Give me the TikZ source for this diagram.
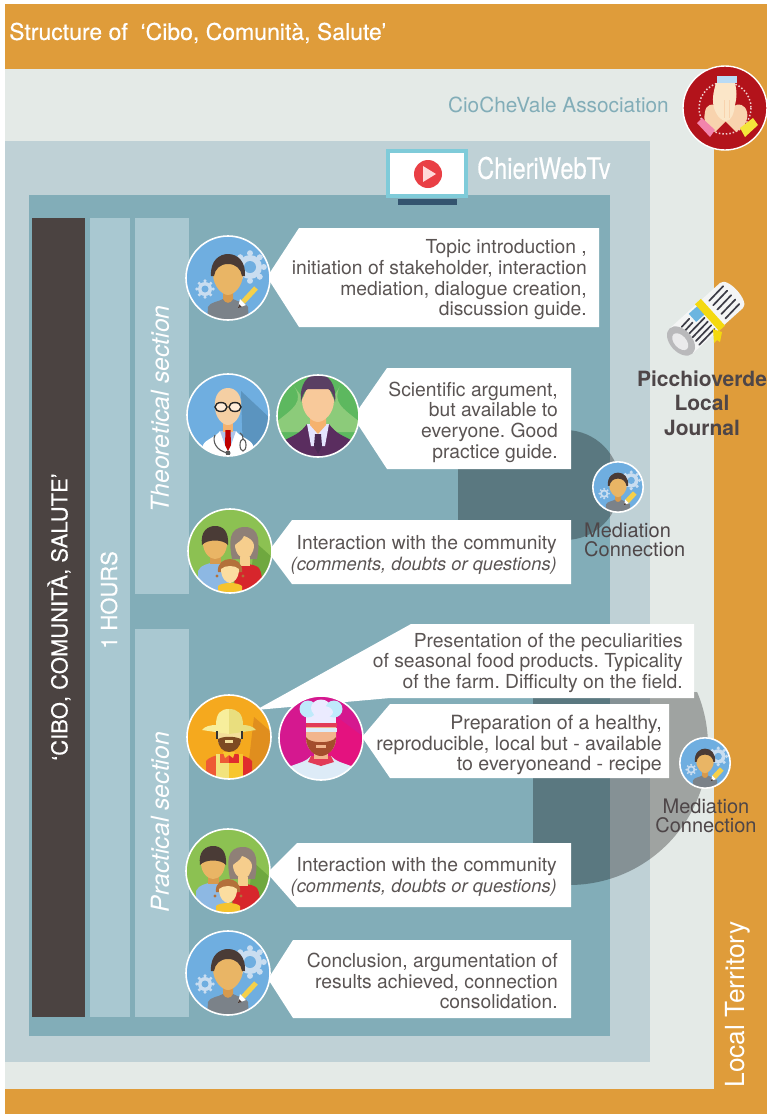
\documentclass[tikz,border=0pt]{standalone}
\usepackage{fontspec}
\setmainfont{TeX Gyre Heros}
\newfontfamily\semi[FakeBold=0.35]{TeX Gyre Heros}
\AtBeginDocument{\frenchspacing}
\definecolor{orangeband}{HTML}{DF9C3A}
\definecolor{palegrey}{HTML}{E4EAE7}
\definecolor{midblue}{HTML}{BFD1D6}
\definecolor{tealpanel}{HTML}{82ADB8}
\definecolor{darkbar}{HTML}{4B4341}
\definecolor{hourbar}{HTML}{A9C8D1}
\definecolor{txt}{HTML}{5A5453}
\definecolor{headtxt}{HTML}{4E4648}
\definecolor{bgblue}{HTML}{6FAEE0}
\definecolor{gearc}{HTML}{C9DDF0}
\definecolor{pface}{HTML}{E9B565}
\definecolor{pneck}{HTML}{D79A4E}
\definecolor{phair}{HTML}{4A3B36}
\definecolor{pshirt}{HTML}{7B8289}
\definecolor{pencil}{HTML}{F5D04A}
\definecolor{famgreen}{HTML}{8CC152}
\definecolor{famshade}{HTML}{6FA83F}
\definecolor{fblue}{HTML}{8DB8E3}
\definecolor{mhair}{HTML}{8F8077}
\definecolor{mface}{HTML}{F6CE8D}
\definecolor{mred}{HTML}{D7262C}
\definecolor{cface}{HTML}{FBDDA0}
\definecolor{chair}{HTML}{B3703A}
\definecolor{cyell}{HTML}{F6C32C}
\definecolor{docshade}{HTML}{5B94BF}
\definecolor{dface}{HTML}{F5CFA3}
\definecolor{bgreen}{HTML}{5DB85F}
\definecolor{blight}{HTML}{8CCB7A}
\definecolor{bhair}{HTML}{5A3F63}
\definecolor{bface}{HTML}{F8C99A}
\definecolor{bneck}{HTML}{F5B26F}
\definecolor{bsuit}{HTML}{5A2D5F}
\definecolor{btie}{HTML}{4A2A55}
\definecolor{farmbg}{HTML}{F5A91E}
\definecolor{farmsh}{HTML}{E08E1E}
\definecolor{hatl}{HTML}{F7EE9C}
\definecolor{hatd}{HTML}{E9DE7E}
\definecolor{beard}{HTML}{7D4A22}
\definecolor{farmface}{HTML}{F3DE9A}
\definecolor{shirtl}{HTML}{EE5A35}
\definecolor{shirtr}{HTML}{E02D2D}
\definecolor{overl}{HTML}{F2E37D}
\definecolor{overr}{HTML}{F7C62E}
\definecolor{chefbg}{HTML}{D5188F}
\definecolor{chefsh}{HTML}{E4127F}
\definecolor{coat}{HTML}{DDEBF7}
\definecolor{chefred}{HTML}{E23B57}
\definecolor{chefface}{HTML}{F2B58C}
\definecolor{chefbeard}{HTML}{A44E2C}
\definecolor{logored}{HTML}{B3131B}
\definecolor{handl}{HTML}{FBE6C8}
\definecolor{handd}{HTML}{F8D3AE}
\definecolor{cuffb}{HTML}{B9DBF5}
\definecolor{cuffp}{HTML}{F284AC}
\definecolor{cuffy}{HTML}{F4E63A}
\definecolor{monframe}{HTML}{7FCBD9}
\definecolor{monstand}{HTML}{34546F}
\definecolor{playred}{HTML}{E93F45}
\definecolor{roll}{HTML}{F4F5F5}
\definecolor{rollend}{HTML}{B9B9BB}
\definecolor{stripe}{HTML}{3C3C46}
\definecolor{ribbon}{HTML}{F4D90F}
\definecolor{newsblue}{HTML}{6BB5E0}
\tikzset{
  callout/.style={fill=white,draw=none},
  calltext/.style={align=right,anchor=east,text=txt,font=\fontsize{19.3}{20.7}\selectfont,inner sep=0pt},
  vlabel/.style={rotate=90,text=white,inner sep=0pt},
  disc/.style={draw=white,line width=1.6pt},
  shade30/.style={fill=black,fill opacity=.3,draw=none},
}
\newcommand{\clipcirc}[1]{\clip (0,0) circle [radius=#1];}
\newcommand{\gear}[3]{%
  \fill[gearc] (#1,#2) circle [radius=#3];
  \foreach \a in {0,45,...,315}{\fill[gearc] (#1,#2) ++(\a:#3*1.15) circle [radius=#3*.25];}
  \fill[bgblue] (#1,#2) circle [radius=#3*.5];
}
\newcommand{\personicon}[3]{% x y scale
\begin{scope}[shift={(#1,#2)},scale=#3]
  \fill[bgblue] (0,0) circle [radius=42];
  \begin{scope}\clipcirc{42}
    \gear{22}{-11}{12}
    \gear{-23}{11}{7}
    \fill[pshirt] (-21,44) -- (-20,29) .. controls (-18,24) and (-10,24) .. (-5,21) -- (5,21) .. controls (10,24) and (18,24) .. (20,29) -- (21,44) -- cycle;
    \fill[pneck] (-5,8) -- (5,8) -- (5,21) .. controls (3,26) and (-3,26) .. (-5,21) -- cycle;
    \fill[pface] (-15,-4) .. controls (-15,8) and (-6,17) .. (0,17) .. controls (6,17) and (15,8) .. (15,-4) .. controls (15,-22) and (-15,-22) .. (-15,-4);
    \fill[phair] (-17,-2) .. controls (-18,-18) and (-8,-24) .. (0,-24) .. controls (10,-24) and (18,-16) .. (17,-2) -- (14,-2) .. controls (13,-9) and (8,-14) .. (0,-14) .. controls (-8,-14) and (-13,-9) .. (-14,-2) -- cycle;
    \draw[pencil,line width=5pt] (15,24) -- (28,10);
    \fill[white] (10,30) -- (12,21) -- (18,27) -- cycle;
    \fill[phair] (10,30) -- (11,26) -- (14,29) -- cycle;
  \end{scope}
  \draw[disc] (0,0) circle [radius=42];
\end{scope}}
\newcommand{\familyicon}[2]{%
\begin{scope}[shift={(#1,#2)}]
  \fill[famgreen] (0,0) circle [radius=42];
  \begin{scope}\clipcirc{42}
    \fill[famshade] (24,-10) -- (44,8) -- (44,40) -- (20,40) -- cycle;
    \fill[fblue] (-32,45) -- (-32,20) .. controls (-30,14) and (-20,12) .. (-15,11) .. controls (-8,12) and (-2,14) .. (0,20) -- (2,45) -- cycle;
    \fill[pneck] (-20,0) rectangle (-9,13);
    \fill[pface] (-27,-8) .. controls (-27,2) and (-20,8) .. (-15,8) .. controls (-9,8) and (-3,2) .. (-3,-8) .. controls (-3,-18) and (-27,-18) .. (-27,-8);
    \fill[phair] (-28,-6) .. controls (-30,-20) and (-22,-25) .. (-15,-25) .. controls (-7,-25) and (-1,-20) .. (-2,-6) .. controls (-7,-12) and (-23,-12) .. (-28,-6);
    \fill[mhair] (2,8) .. controls (-1,-8) and (-2,-24) .. (15,-24) .. controls (30,-24) and (30,-8) .. (27,8) -- cycle;
    \fill[mred] (4,42) -- (5,17) .. controls (10,12) and (24,12) .. (29,17) .. controls (32,22) and (32,28) .. (32,32) -- (26,42) -- cycle;
    \fill[mface] (10,6) rectangle (20,15);
    \fill[mface] (5,-6) .. controls (5,2) and (11,8) .. (15,8) .. controls (19,8) and (24,2) .. (24,-6) .. controls (24,-10) and (18,-14) .. (14,-15) .. controls (12,-10) and (8,-9) .. (5,-6);
    \fill[cyell] (-12,43) -- (-12,35) .. controls (-8,31) and (8,31) .. (12,35) -- (12,43) -- cycle;
    \fill[chair] (-12,21) .. controls (-13,12) and (-6,8) .. (0,8) .. controls (6,8) and (13,12) .. (12,21) -- cycle;
    \fill[chair] (-13,25) circle [radius=1.6];
    \fill[chair] (13,25) circle [radius=1.6];
    \fill[cface] (-9,18) .. controls (-9,28) and (-3,32) .. (0,32) .. controls (3,32) and (9,28) .. (9,18) .. controls (5,14) and (-5,14) .. (-9,18);
  \end{scope}
  \draw[disc] (0,0) circle [radius=42];
\end{scope}}
\begin{document}
\begin{tikzpicture}[x=1pt,y=-1pt]
\useasboundingbox (0,0) rectangle (767,1114);
\fill[white] (0,0) rectangle (767,1114);
% bands and panels
\fill[orangeband] (5,4) rectangle (767,1114);
\fill[palegrey] (5,69) rectangle (714,1089);
\fill[midblue] (5,141) rectangle (650,1062);
\fill[tealpanel] (29,195) rectangle (610,1036);
% columns
\fill[darkbar] (32,218) rectangle (85,1017);
\fill[hourbar] (90,218) rectangle (130,1017);
\fill[hourbar] (135,218) rectangle (189,594);
\fill[hourbar] (135,629) rectangle (189,1017);
% mediation shades
\fill[shade30] (458,430) -- (565,430) arc[start angle=-90,end angle=90,radius=55] -- (458,540) -- cycle;
\begin{scope}
  \clip (533,692) rectangle (720,900);
  \fill[shade30] (569,746) circle [radius=139];
\end{scope}
% callouts
\fill[callout] (267,277) -- (299,228) -- (599,228) -- (599,327) -- (299,327) -- cycle;
\fill[callout] (353,417) -- (387,368) -- (571,368) -- (571,469) -- (387,469) -- cycle;
\fill[callout] (268,552) -- (292,520) -- (571,520) -- (571,584) -- (292,584) -- cycle;
\fill[callout] (256,710) -- (411,624) -- (694,624) -- (694,698) -- (390,698) -- cycle;
\fill[callout] (362,737) -- (390,704) -- (669,704) -- (669,778) -- (390,778) -- cycle;
\fill[callout] (267,873) -- (297,843) -- (571,843) -- (571,907) -- (297,907) -- cycle;
\fill[callout] (268,979) -- (293,940) -- (571,940) -- (571,1018) -- (293,1018) -- cycle;
% callout texts
\node[calltext] (t1) at (587,280) {Topic introduction ,\\initiation of stakeholder, interaction\\mediation, dialogue creation,\\discussion guide.};
\node[calltext] (t2) at (558,422) {Scientific argument,\\but available to\\everyone. Good\\practice guide.};
\node[calltext] (t3) at (557,555) {Interaction with the community\\{\itshape\fontsize{18.3}{20}\selectfont (comments, doubts or questions)}};
\node[calltext] (t4) at (683,663) {Presentation of the peculiarities\\of seasonal food products. Typicality\\of the farm. Difficulty on the field.};
\node[calltext,font=\fontsize{19.6}{20.5}\selectfont] (t5) at (662,745) {Preparation of a healthy,\\reproducible, local but - available\\to everyoneand - recipe};
\node[calltext] (t6) at (557,877) {Interaction with the community\\{\itshape\fontsize{18.3}{20}\selectfont (comments, doubts or questions)}};
\node[calltext] (t7) at (558,981) {Conclusion, argumentation of\\results achieved, connection\\consolidation.};
% vertical labels
\node[vlabel,font=\semi\fontsize{22}{24}\selectfont] (v1) at (59,617) {‘CIBO, COMUNITÀ, SALUTE’};
\node[vlabel,font=\semi\fontsize{22}{24}\selectfont] (v2) at (109,600) {1 HOURS};
\node[vlabel,font=\fontsize{24.8}{26}\selectfont\itshape] (v3) at (160,409) {Theoretical section};
\node[vlabel,font=\fontsize{24.8}{26}\selectfont\itshape] (v4) at (160,822) {Practical section};
\node[vlabel,font=\fontsize{26.3}{28}\selectfont] (v5) at (738,1004.5) {Local Territory};
% headings
\node[anchor=west,text=white,inner sep=0pt,font=\semi\fontsize{23}{25}\selectfont] (title) at (9,33) {Structure of\ \ ‘Cibo, Comunità, Salute’};
\node[anchor=east,text=tealpanel,inner sep=0pt,font=\fontsize{20.8}{22}\selectfont] (assoc) at (669,105) {CioCheVale Association};
\node[anchor=west,text=white,inner sep=0pt,xscale=.8,font=\semi\fontsize{29.5}{31}\selectfont] (web) at (477,168) {ChieriWebTv};
\node[align=center,text=headtxt,inner sep=0pt,font=\bfseries\fontsize{21}{24.5}\selectfont] (jour) at (702,403) {Picchioverde\\Local\\Journal};
\node[align=left,anchor=west,text=headtxt,inner sep=0pt,font=\fontsize{20}{19}\selectfont] (m1) at (584,540) {Mediation\\Connection};
\node[align=center,text=headtxt,inner sep=0pt,font=\fontsize{20}{19}\selectfont] (m2) at (706,816) {Mediation\\Connection};
% monitor
\fill[monframe] (386,149) rectangle (468,198);
\fill[white] (390,153) rectangle (464,194);
\fill[monstand] (398,199) rectangle (457,205);
\fill[playred] (428,174) circle [radius=14];
\fill[white!85!red] (423,166) -- (436,174) -- (423,182) -- cycle;
% logo
\begin{scope}[shift={(725,108)}]
  \fill[logored] (0,0) circle [radius=42];
  \draw[white,line width=1.4pt] (0,0) circle [radius=42];
  \draw[white!80!logored,line width=1.5pt,dash pattern=on 1.5pt off 2pt] (0,0) circle [radius=26];
  \fill[handd] (-20,4) .. controls (-19,-4) and (-12,-5) .. (-8,-2) -- (2,12) -- (-10,24) -- (-18,20) .. controls (-21,14) and (-21,9) .. (-20,4);
  \fill[handd] (22,4) .. controls (20,-4) and (13,-5) .. (9,-2) -- (-1,12) -- (11,24) -- (19,18) .. controls (22,12) and (23,9) .. (22,4);
  \fill[handl] (-9,-25) .. controls (-12,-15) and (-13,-8) .. (-11,0) .. controls (-8,9) and (-3,13) .. (1,13) .. controls (6,13) and (9,6) .. (10,-3) .. controls (12,-10) and (12,-18) .. (10,-25) -- cycle;
  \fill[handd] (-1,-8) rectangle (0,10);
  \fill[handd] (4,-8) rectangle (5,10);
  \fill[cuffb] (-8,-32) rectangle (12,-25);
  \fill[cuffp] (-28,15) -- (-23,10) -- (-10,22) -- (-15,29) -- cycle;
  \fill[cuffy] (15,20) -- (28,10) -- (33,17) -- (20,29) -- cycle;
\end{scope}
% newspaper roll
\begin{scope}[shift={(681,341)},rotate=42]
  \fill[roll] (0,-17) -- (68,-17) .. controls (78,-17) and (78,17) .. (68,17) -- (0,17) -- cycle;
  \fill[newsblue] (24,-15) rectangle (38,-4);
  \foreach \yy in {0,5,10,15}{\draw[stripe,line width=1.7pt,line cap=round] (11,\yy) -- (33,\yy-1.5);}
  \foreach \yy in {-10,-5}{\draw[stripe,line width=1.7pt,line cap=round] (10,\yy) -- (21,\yy-1);}
  \foreach \yy in {-11,-5,1,7,13}{\draw[stripe,line width=1.7pt,line cap=round] (48,\yy) -- (68,\yy-1.5);}
  \fill[ribbon] (35,-18) -- (43,-18) -- (43,18) -- (35,18) -- cycle;
  \fill[rollend] (0,0) ellipse [x radius=11, y radius=17];
  \fill[white!70!rollend] (-1,0) ellipse [x radius=6, y radius=10];
\end{scope}
\fill[ribbon] (713,329) -- (722,332) -- (720,342) -- (717,340) -- (714,343) -- cycle;
% people
\personicon{228}{278}{1}
\begin{scope}[shift={(228,415)}]
  \fill[bgblue] (0,0) circle [radius=41];
  \begin{scope}\clipcirc{41}
    \fill[docshade] (13,-24) -- (44,5) -- (44,40) -- (15,40) -- cycle;
    \fill[white] (-26,45) -- (-25,30) .. controls (-22,24) and (-12,22) .. (-8,16) -- (8,16) .. controls (12,22) and (22,24) .. (25,30) -- (26,45) -- cycle;
    \fill[cyan!20!white!85!blue] (-8,16) -- (8,16) -- (3,30) -- (-3,30) -- cycle;
    \fill[bneck] (-5,6) rectangle (5,17);
    \fill[dface] (-13,-8) .. controls (-14,-20) and (-8,-27) .. (0,-27) .. controls (8,-27) and (14,-20) .. (13,-8) .. controls (13,2) and (6,10) .. (0,10) .. controls (-6,10) and (-13,2) .. (-13,-8);
    \fill[red!75!black] (-2.5,15) -- (2.5,15) -- (3,30) -- (0,36) -- (-3,30) -- cycle;
    \draw[gray!70!black,line width=1.1pt] (-13,20) .. controls (-16,26) and (-12,36) .. (0,38);
    \draw[gray!70!black,line width=1.1pt] (12,18) .. controls (15,20) and (15,22) .. (15,24);
    \draw[gray!70!black,line width=1.1pt,fill=white] (15,30) ellipse [x radius=3, y radius=6];
    \fill[gray!70!black] (0,38) circle [radius=2.5];
    \draw[black!85,line width=1.4pt,fill=white!85!orange] (-7,-8) ellipse [x radius=6, y radius=4.5];
    \draw[black!85,line width=1.4pt,fill=white!85!orange] (7,-8) ellipse [x radius=6, y radius=4.5];
  \end{scope}
  \draw[disc] (0,0) circle [radius=41];
\end{scope}
\begin{scope}[shift={(318,416)}]
  \fill[bgreen] (0,0) circle [radius=41];
  \begin{scope}\clipcirc{41}
    \fill[blight] (-24,-30) .. controls (-14,-14) and (-24,-8) .. (-42,6) -- (-42,16) -- (42,16) -- (42,6) .. controls (24,-8) and (14,-14) .. (22,-30) -- cycle;
    \fill[bgreen] (-24,-44) -- (24,-44) -- (22,-30) -- (12,-14) -- (-12,-14) -- (-24,-30) -- cycle;
    \fill[bsuit] (-36,42) -- (-33,24) .. controls (-26,20) and (-18,18) .. (-11,8) -- (11,8) .. controls (18,18) and (26,20) .. (33,24) -- (36,42) -- cycle;
    \fill[white!90!blue] (-11,8) -- (11,8) -- (7,30) -- (-7,30) -- cycle;
    \fill[bneck] (-8,0) -- (8,0) -- (8,9) -- (0,18) -- (-8,9) -- cycle;
    \fill[btie] (-3,18) -- (3,18) -- (4,30) -- (0,38) -- (-4,30) -- cycle;
    \fill[bface] (-16,-16) .. controls (-16,-2) and (-6,6) .. (0,6) .. controls (6,6) and (16,-2) .. (16,-16) -- (10,-30) -- (-10,-30) -- cycle;
    \fill[bhair] (-17,-14) .. controls (-19,-32) and (-10,-42) .. (0,-42) .. controls (10,-42) and (19,-32) .. (17,-14) .. controls (15,-22) and (13,-26) .. (10,-27) -- (-10,-27) .. controls (-13,-26) and (-15,-22) .. (-17,-14);
  \end{scope}
  \draw[disc] (0,0) circle [radius=41];
\end{scope}
\familyicon{230}{551}
% farmer
\begin{scope}[shift={(229,737)}]
  \fill[farmbg] (0,0) circle [radius=42];
  \begin{scope}\clipcirc{42}
    \fill[farmsh] (25,-20) -- (46,-2) -- (46,30) -- (18,40) -- cycle;
    \fill[shirtl] (-23,44) -- (-23,24) .. controls (-20,20) and (-14,19) .. (-8,17) -- (0,17) -- (0,44) -- cycle;
    \fill[shirtr] (23,44) -- (23,24) .. controls (20,20) and (14,19) .. (8,17) -- (0,17) -- (0,44) -- cycle;
    \fill[overl] (-13,44) -- (-13,26) -- (0,26) -- (0,44) -- cycle;
    \fill[overr] (14,44) -- (14,26) -- (0,26) -- (0,44) -- cycle;
    \fill[overl] (-13,17) rectangle (-9,26);
    \fill[overr] (10,17) rectangle (14,26);
    \fill[overr] (-6,15) -- (6,15) -- (4,21) -- (0,18) -- (-4,21) -- cycle;
    \fill[farmface] (-11,-6) rectangle (12,6);
    \fill[beard] (-11,2) .. controls (-5,-1) and (5,-1) .. (12,2) .. controls (12,10) and (6,15) .. (0,15) .. controls (-6,15) and (-11,10) .. (-11,2);
    \fill[farmface] (-4,3) rectangle (4,6);
    \fill[hatl] (-13,-12) .. controls (-13,-24) and (-8,-28) .. (0,-28) -- (0,-3) -- (-27,-7) .. controls (-24,-11) and (-18,-12) .. (-13,-12);
    \fill[hatd] (14,-12) .. controls (14,-24) and (8,-28) .. (0,-28) -- (0,-3) -- (27,-7) .. controls (24,-11) and (18,-12) .. (14,-12);
    \draw[black!80,line width=2pt] (-12,-6) -- (-12,2);
    \draw[black!80,line width=2pt] (13,-6) -- (13,2);
  \end{scope}
  \draw[disc] (0,0) circle [radius=42];
\end{scope}
% chef
\begin{scope}[shift={(321,738)}]
  \fill[chefbg] (0,0) circle [radius=42];
  \begin{scope}\clipcirc{42}
    \fill[chefsh] (12,-24) -- (44,0) -- (44,30) -- (0,30) -- cycle;
    \fill[coat] (-34,44) -- (-30,28) .. controls (-22,25) and (-14,23) .. (-10,18) -- (10,18) .. controls (14,23) and (22,25) .. (30,28) -- (34,44) -- cycle;
    \fill[chefred] (-13,24) -- (-10,18) -- (10,18) -- (13,24) -- (0,28) -- cycle;
    \fill[chefface] (-7,6) rectangle (7,21);
    \fill[chefface] (-15,-12) -- (15,-12) -- (15,0) .. controls (15,12) and (6,17) .. (0,17) .. controls (-6,17) and (-15,12) .. (-15,0) -- cycle;
    \fill[chefbeard] (-15,-1) .. controls (-12,6) and (12,6) .. (15,-1) .. controls (15,12) and (6,18) .. (0,18) .. controls (-6,18) and (-15,12) .. (-15,-1);
    \fill[chefface] (-5,7) rectangle (5,10);
    \fill[white!92!blue] (-15,-30) rectangle (15,-15);
    \fill[coat] (-15,-10.5) rectangle (16,-6);
    \fill[chefred] (-15,-15) rectangle (16,-11);
    \fill[cyan!25!white] (-13,-29) circle [radius=8.5];
    \fill[white!92!blue] (0,-30) ellipse [x radius=10, y radius=8.5];
    \fill[cyan!25!white] (13,-29) circle [radius=8.5];
    \fill[white!92!blue] (2,-26) ellipse [x radius=10, y radius=6];
  \end{scope}
  \draw[disc] (0,0) circle [radius=42];
\end{scope}
\familyicon{228}{871}
\personicon{228}{973}{1}
\personicon{618}{487}{.6}
\personicon{705}{763}{.6}
\end{tikzpicture}
\end{document}
